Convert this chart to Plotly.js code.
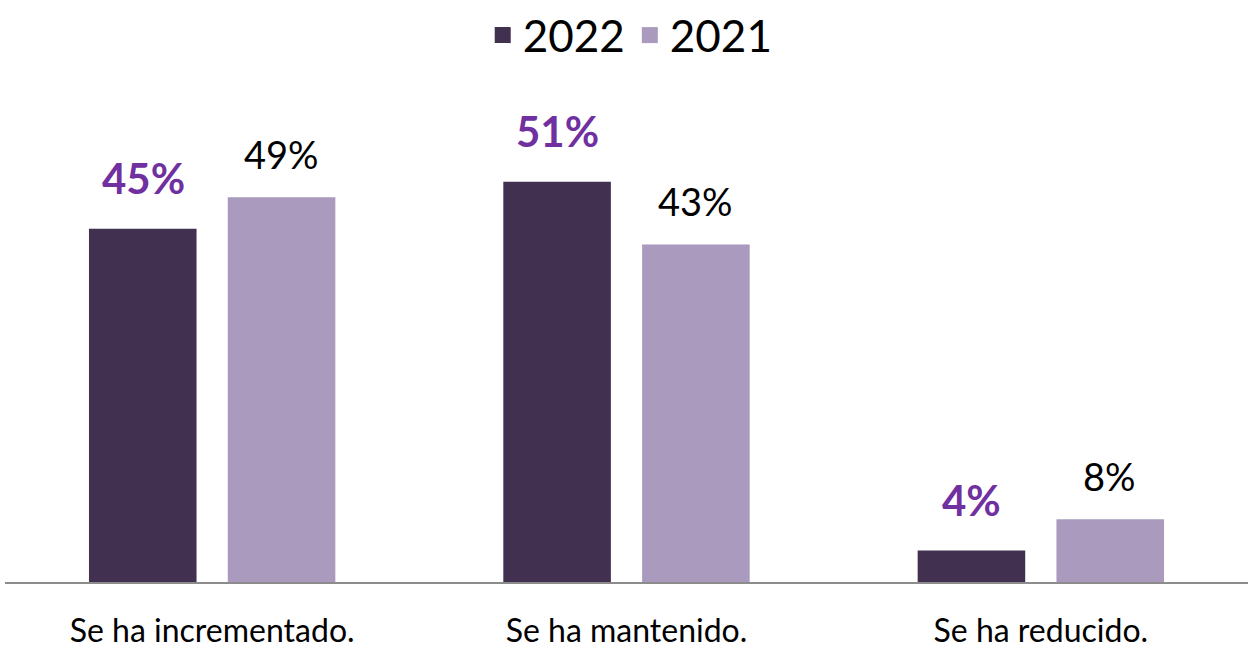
<!DOCTYPE html>
<html>
<head>
<meta charset="utf-8">
<script src="https://cdn.plot.ly/plotly-3.0.1.min.js"></script>
<style>html,body{margin:0;padding:0;background:#fff;}#chart{width:1248px;height:657px;}</style>
</head>
<body>
<div id="chart"></div>
<script>
const categories = ["Se ha incrementado.", "Se ha mantenido.", "Se ha reducido."];
const values2022 = [45, 51, 4];
const values2021 = [49, 43, 8];
const seriesNames = ["2022", "2021"];
const labels2022 = ["45%", "51%", "4%"];
const labels2021 = ["49%", "43%", "8%"];

const FONT = "Lato, 'Liberation Sans', sans-serif";
const colors = ["#41304F", "#A99ABE"];

const traces = [
  {type: "bar", name: seriesNames[0], x: categories, y: values2022, showlegend: false,
   marker: {color: colors[0], line: {width: 0}}, hoverinfo: "none"},
  {type: "bar", name: seriesNames[1], x: categories, y: values2021, showlegend: false,
   marker: {color: colors[1], line: {width: 0}}, hoverinfo: "none"},
  {type: "scatter", mode: "markers", name: seriesNames[0], x: [null], y: [null],
   marker: {symbol: "square", size: 26, color: colors[0]}, hoverinfo: "none"},
  {type: "scatter", mode: "markers", name: seriesNames[1], x: [null], y: [null],
   marker: {symbol: "square", size: 26, color: colors[1]}, hoverinfo: "none"}
];

const annotations = [];
categories.forEach((c, i) => {
  annotations.push({x: c, y: values2022[i], xref: "x", yref: "y", text: labels2022[i],
    showarrow: false, yanchor: "bottom", xshift: -69, yshift: 24,
    font: {family: FONT, size: 42, color: "#7030A0", weight: "bold"}});
  annotations.push({x: c, y: values2021[i], xref: "x", yref: "y", text: labels2021[i],
    showarrow: false, yanchor: "bottom", xshift: 69, yshift: 18,
    font: {family: FONT, size: 38, color: "#000000"}});
});

const layout = {
  width: 1248, height: 657,
  margin: {l: 5, r: 0, t: 111, b: 75},
  paper_bgcolor: "#ffffff", plot_bgcolor: "#ffffff",
  barmode: "group", bargap: 0.33, bargroupgap: 0.225,
  showlegend: true,
  legend: {orientation: "h", x: 0.503, xanchor: "center", xref: "paper",
    y: 1, yanchor: "top", yref: "container", itemsizing: "trace",
    font: {family: FONT, size: 44, color: "#000"}, itemclick: false, traceorder: "normal"},
  xaxis: {showline: true, linecolor: "#8c8c8c", linewidth: 2, showgrid: false, zeroline: false,
    ticks: "", ticklabelstandoff: 20, tickfont: {family: FONT, size: 32, color: "#000"}},
  yaxis: {range: [0, 60], visible: false, showgrid: false, zeroline: false, fixedrange: true},
  annotations: annotations
};

Plotly.newPlot("chart", traces, layout, {staticPlot: true, displayModeBar: false});
</script>
</body>
</html>
